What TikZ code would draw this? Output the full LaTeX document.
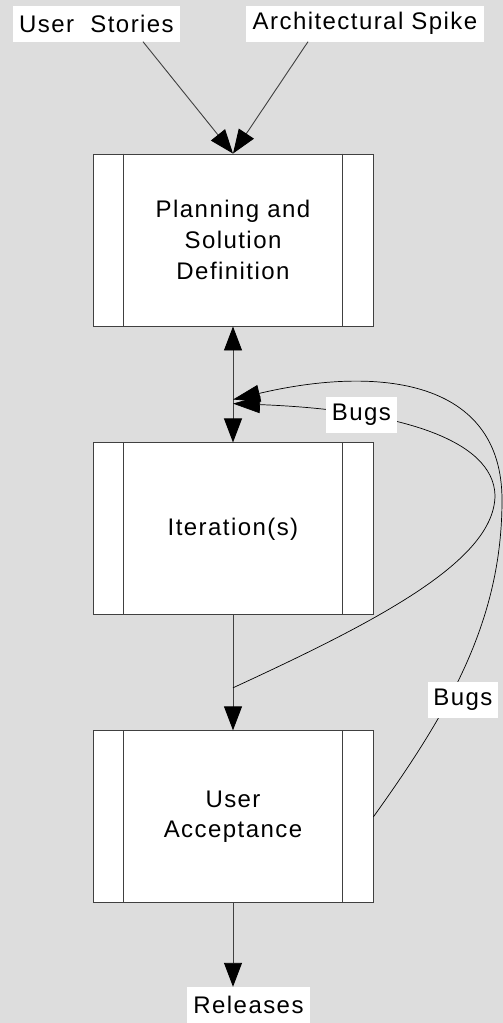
\documentclass[tikz,border=0pt]{standalone}
\usepackage{fontspec}
\setmainfont{Liberation Sans}[LetterSpace=6]
\usetikzlibrary{arrows.meta,positioning,calc}

\definecolor{bggray}{RGB}{221,221,221}
\tikzset{
  tri/.tip={Triangle[length=24pt,width=18pt,color=black]},
  bugtri/.tip={Triangle[length=27pt,width=17pt,color=black]},
  proc/.style={draw=black!75,fill=white,line width=0.9pt,minimum width=280pt,
    minimum height=172pt,align=center,font=\fontsize{24}{30.7}\selectfont},
  lbl/.style={fill=white,inner sep=0pt,minimum height=36pt,font=\fontsize{24}{28}\selectfont},
  arr/.style={draw=black!75,line width=0.9pt,-tri},
  bug/.style={draw=black,line width=0.7pt,-bugtri}
}

\begin{document}
\begin{tikzpicture}[x=1pt,y=-1pt,node distance=116pt]
      \fill[bggray] (0,0) rectangle (503,1023);
      \useasboundingbox (0,0) rectangle (503,1023);

      \node[lbl,minimum width=167pt](stories) at (96.5,23.5){User\ \ Stories};
      \node[lbl,minimum width=238pt](spike) at (365,23.5){Architectural Spike};

      \node[proc](plan) at (233,240){Planning and\\Solution\\Definition};
      \node[proc,below=of plan](iter){Iteration(s)};
      \node[proc,below=115pt of iter](accept){User\\Acceptance};

      \foreach \b in {plan,iter,accept}{
        \draw[draw=black!75,line width=0.9pt]
          ([xshift=31pt]\b.north west) -- ([xshift=31pt]\b.south west)
          ([xshift=-31pt]\b.north east) -- ([xshift=-31pt]\b.south east);
      }

      \coordinate (jA) at ($(iter.south)!0.63!(accept.north)$);
      \coordinate (jB) at ($(plan.south)!0.665!(iter.north)$);
      \coordinate (jC) at ($(plan.south)!0.63!(iter.north)$);

      \draw[arr] ([xshift=46.5pt]stories.south) -- (plan.north);
      \draw[arr] ([xshift=-57pt]spike.south) -- (plan.north);
      \draw[arr,tri-tri] (plan.south) -- (iter.north);
      \draw[arr] (iter.south) -- (accept.north);

      % bug loops back to the iterations
      \draw[bug] (jA) .. controls (380,620) and (495,560) .. (495,495)
        .. controls (493,440) and (400,410) .. (jB);
      \draw[bug] (accept.east) .. controls (450,710) and (502,620) .. (502,500)
        .. controls (502,380) and (380,365) .. (jC);
      \node[lbl,minimum width=71pt](bugsA) at (361.5,415){Bugs};
      \node[lbl,minimum width=70pt](bugsB) at (463,699.5){Bugs};

      \node[lbl,minimum width=123pt](rel) at (248.5,1005){Releases};
      \draw[arr] (accept.south) -- (accept.south |- rel.north);
\end{tikzpicture}
\end{document}
